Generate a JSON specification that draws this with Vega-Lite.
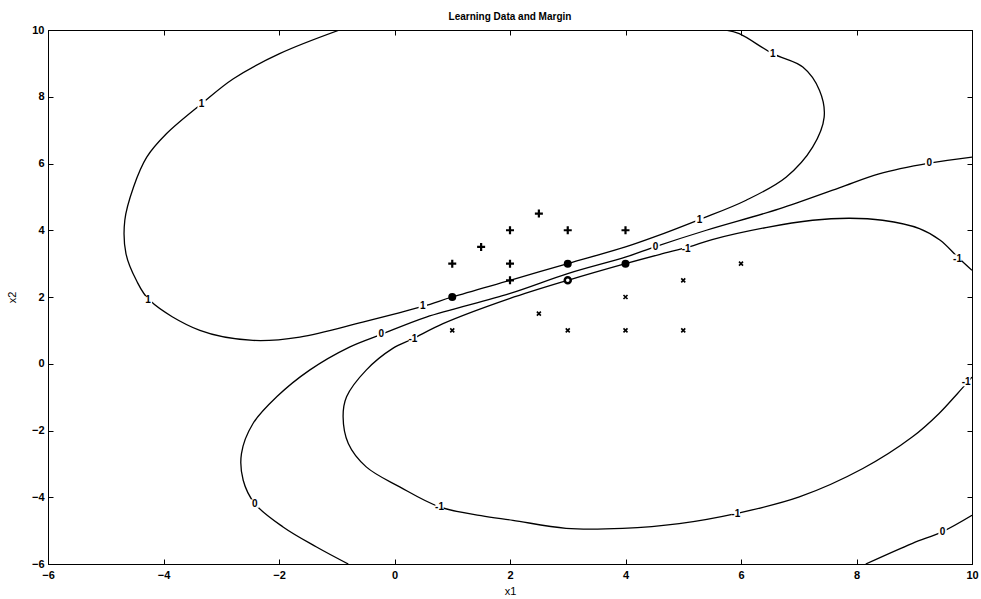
{
  "$schema": "https://vega.github.io/schema/vega-lite/v6.json",
  "autosize": "none",
  "width": 924,
  "height": 534,
  "padding": {"left": 48, "top": 30, "right": 9, "bottom": 35},
  "background": "white",
  "config": {
    "view": {"stroke": "black", "strokeWidth": 1},
    "axis": {"grid": false, "domainColor": "black", "tickColor": "black", "labelColor": "black", "titleColor": "black",
             "labelFont": "Liberation Sans", "labelFontWeight": "bold", "labelFontSize": 11,
             "titleFont": "Liberation Sans", "titleFontWeight": "normal", "titleFontSize": 11,
             "tickSize": -5, "tickWidth": 1, "minExtent": 0}
  },
  "title": {"text": "Learning Data and Margin", "font": "Liberation Sans", "fontSize": 10, "fontWeight": "bold", "color": "black", "anchor": "middle", "baseline": "bottom", "offset": 9, "dy": 17},
  "datasets": {
    "curves": [
      {"level": "1", "seg": "A", "ord": 1, "x1": -0.95, "x2": 10},
      {"level": "1", "seg": "A", "ord": 2, "x1": -1.99, "x2": 9.29},
      {"level": "1", "seg": "A", "ord": 3, "x1": -2.79, "x2": 8.54},
      {"level": "1", "seg": "A", "ord": 4, "x1": -3.34, "x2": 7.79},
      {"level": "1", "seg": "A", "ord": 5, "x1": -3.95, "x2": 6.89},
      {"level": "1", "seg": "A", "ord": 6, "x1": -4.29, "x2": 6.19},
      {"level": "1", "seg": "A", "ord": 7, "x1": -4.52, "x2": 5.29},
      {"level": "1", "seg": "A", "ord": 8, "x1": -4.67, "x2": 4.3},
      {"level": "1", "seg": "A", "ord": 9, "x1": -4.65, "x2": 3.3},
      {"level": "1", "seg": "A", "ord": 10, "x1": -4.47, "x2": 2.5},
      {"level": "1", "seg": "A", "ord": 11, "x1": -4.24, "x2": 1.9},
      {"level": "1", "seg": "A", "ord": 12, "x1": -3.37, "x2": 1.0},
      {"level": "1", "seg": "A", "ord": 13, "x1": -2.45, "x2": 0.7},
      {"level": "1", "seg": "A", "ord": 14, "x1": -1.64, "x2": 0.8},
      {"level": "1", "seg": "A", "ord": 15, "x1": -0.55, "x2": 1.25},
      {"level": "1", "seg": "A", "ord": 16, "x1": 0.49, "x2": 1.72},
      {"level": "1", "seg": "A", "ord": 17, "x1": 1, "x2": 2},
      {"level": "1", "seg": "A", "ord": 18, "x1": 2, "x2": 2.5},
      {"level": "1", "seg": "A", "ord": 19, "x1": 3, "x2": 3},
      {"level": "1", "seg": "A", "ord": 20, "x1": 4, "x2": 3.5},
      {"level": "1", "seg": "A", "ord": 21, "x1": 4.5, "x2": 3.8},
      {"level": "1", "seg": "A", "ord": 22, "x1": 5.28, "x2": 4.32},
      {"level": "1", "seg": "A", "ord": 23, "x1": 6.09, "x2": 4.9},
      {"level": "1", "seg": "A", "ord": 24, "x1": 6.78, "x2": 5.59},
      {"level": "1", "seg": "A", "ord": 25, "x1": 7.24, "x2": 6.49},
      {"level": "1", "seg": "A", "ord": 26, "x1": 7.44, "x2": 7.39},
      {"level": "1", "seg": "A", "ord": 27, "x1": 7.36, "x2": 8.19},
      {"level": "1", "seg": "A", "ord": 28, "x1": 7.07, "x2": 8.89},
      {"level": "1", "seg": "A", "ord": 29, "x1": 6.55, "x2": 9.29},
      {"level": "1", "seg": "A", "ord": 30, "x1": 5.97, "x2": 9.89},
      {"level": "1", "seg": "A", "ord": 31, "x1": 5.74, "x2": 10},

      {"level": "0", "seg": "B", "ord": 1, "x1": 10, "x2": 6.19},
      {"level": "0", "seg": "B", "ord": 2, "x1": 9.26, "x2": 6.01},
      {"level": "0", "seg": "B", "ord": 3, "x1": 8.39, "x2": 5.69},
      {"level": "0", "seg": "B", "ord": 4, "x1": 7.7, "x2": 5.27},
      {"level": "0", "seg": "B", "ord": 5, "x1": 6.66, "x2": 4.64},
      {"level": "0", "seg": "B", "ord": 6, "x1": 5.4, "x2": 4.0},
      {"level": "0", "seg": "B", "ord": 7, "x1": 4.52, "x2": 3.51},
      {"level": "0", "seg": "B", "ord": 8, "x1": 4.01, "x2": 3.2},
      {"level": "0", "seg": "B", "ord": 9, "x1": 3.0, "x2": 2.7},
      {"level": "0", "seg": "B", "ord": 10, "x1": 1.99, "x2": 2.1},
      {"level": "0", "seg": "B", "ord": 11, "x1": 0.55, "x2": 1.4},
      {"level": "0", "seg": "B", "ord": 12, "x1": -0.23, "x2": 0.88},
      {"level": "0", "seg": "B", "ord": 13, "x1": -0.78, "x2": 0.5},
      {"level": "0", "seg": "B", "ord": 14, "x1": -1.47, "x2": -0.19},
      {"level": "0", "seg": "B", "ord": 15, "x1": -2.04, "x2": -0.99},
      {"level": "0", "seg": "B", "ord": 16, "x1": -2.45, "x2": -1.79},
      {"level": "0", "seg": "B", "ord": 17, "x1": -2.65, "x2": -2.69},
      {"level": "0", "seg": "B", "ord": 18, "x1": -2.62, "x2": -3.49},
      {"level": "0", "seg": "B", "ord": 19, "x1": -2.42, "x2": -4.19},
      {"level": "0", "seg": "B", "ord": 20, "x1": -1.93, "x2": -4.89},
      {"level": "0", "seg": "B", "ord": 21, "x1": -1.35, "x2": -5.49},
      {"level": "0", "seg": "B", "ord": 22, "x1": -0.8, "x2": -6},

      {"level": "0", "seg": "C", "ord": 1, "x1": 8.16, "x2": -6},
      {"level": "0", "seg": "C", "ord": 2, "x1": 8.97, "x2": -5.38},
      {"level": "0", "seg": "C", "ord": 3, "x1": 9.49, "x2": -5.03},
      {"level": "0", "seg": "C", "ord": 4, "x1": 10, "x2": -4.54},

      {"level": "-1", "seg": "D", "ord": 1, "x1": 10, "x2": 2.8},
      {"level": "-1", "seg": "D", "ord": 2, "x1": 9.75, "x2": 3.2},
      {"level": "-1", "seg": "D", "ord": 3, "x1": 9.45, "x2": 3.7},
      {"level": "-1", "seg": "D", "ord": 4, "x1": 9.09, "x2": 4.05},
      {"level": "-1", "seg": "D", "ord": 5, "x1": 8.45, "x2": 4.3},
      {"level": "-1", "seg": "D", "ord": 6, "x1": 7.88, "x2": 4.36},
      {"level": "-1", "seg": "D", "ord": 7, "x1": 7.24, "x2": 4.3},
      {"level": "-1", "seg": "D", "ord": 8, "x1": 6.43, "x2": 4.08},
      {"level": "-1", "seg": "D", "ord": 9, "x1": 5.5, "x2": 3.72},
      {"level": "-1", "seg": "D", "ord": 10, "x1": 5.1, "x2": 3.5},
      {"level": "-1", "seg": "D", "ord": 11, "x1": 4.6, "x2": 3.28},
      {"level": "-1", "seg": "D", "ord": 12, "x1": 4, "x2": 3},
      {"level": "-1", "seg": "D", "ord": 13, "x1": 3, "x2": 2.5},
      {"level": "-1", "seg": "D", "ord": 14, "x1": 1.99, "x2": 1.95},
      {"level": "-1", "seg": "D", "ord": 15, "x1": 0.84, "x2": 1.2},
      {"level": "-1", "seg": "D", "ord": 16, "x1": 0.32, "x2": 0.75},
      {"level": "-1", "seg": "D", "ord": 17, "x1": -0.03, "x2": 0.46},
      {"level": "-1", "seg": "D", "ord": 18, "x1": -0.49, "x2": -0.19},
      {"level": "-1", "seg": "D", "ord": 19, "x1": -0.83, "x2": -0.99},
      {"level": "-1", "seg": "D", "ord": 20, "x1": -0.89, "x2": -1.59},
      {"level": "-1", "seg": "D", "ord": 21, "x1": -0.8, "x2": -2.39},
      {"level": "-1", "seg": "D", "ord": 22, "x1": -0.49, "x2": -3.09},
      {"level": "-1", "seg": "D", "ord": 23, "x1": 0.09, "x2": -3.69},
      {"level": "-1", "seg": "D", "ord": 24, "x1": 0.78, "x2": -4.29},
      {"level": "-1", "seg": "D", "ord": 25, "x1": 1.5, "x2": -4.55},
      {"level": "-1", "seg": "D", "ord": 26, "x1": 2.05, "x2": -4.69},
      {"level": "-1", "seg": "D", "ord": 27, "x1": 2.97, "x2": -4.93},
      {"level": "-1", "seg": "D", "ord": 28, "x1": 3.95, "x2": -4.93},
      {"level": "-1", "seg": "D", "ord": 29, "x1": 4.93, "x2": -4.79},
      {"level": "-1", "seg": "D", "ord": 30, "x1": 5.91, "x2": -4.49},
      {"level": "-1", "seg": "D", "ord": 31, "x1": 7.01, "x2": -3.99},
      {"level": "-1", "seg": "D", "ord": 32, "x1": 8.11, "x2": -3.14},
      {"level": "-1", "seg": "D", "ord": 33, "x1": 8.97, "x2": -2.19},
      {"level": "-1", "seg": "D", "ord": 34, "x1": 9.43, "x2": -1.49},
      {"level": "-1", "seg": "D", "ord": 35, "x1": 9.75, "x2": -0.89},
      {"level": "-1", "seg": "D", "ord": 36, "x1": 10, "x2": -0.4}
    ],
    "labels": [
      {"x1": -3.34, "x2": 7.79, "text": "1"},
      {"x1": -4.27, "x2": 1.9, "text": "1"},
      {"x1": 0.49, "x2": 1.74, "text": "1"},
      {"x1": 5.28, "x2": 4.32, "text": "1"},
      {"x1": 6.55, "x2": 9.29, "text": "1"},
      {"x1": -0.23, "x2": 0.88, "text": "0"},
      {"x1": 4.52, "x2": 3.51, "text": "0"},
      {"x1": 9.26, "x2": 6.01, "text": "0"},
      {"x1": -2.42, "x2": -4.19, "text": "0"},
      {"x1": 9.49, "x2": -5.03, "text": "0"},
      {"x1": 0.32, "x2": 0.75, "text": "-1"},
      {"x1": 5.05, "x2": 3.45, "text": "-1"},
      {"x1": 9.75, "x2": 3.15, "text": "-1"},
      {"x1": 0.78, "x2": -4.29, "text": "-1"},
      {"x1": 5.91, "x2": -4.49, "text": "-1"},
      {"x1": 9.9, "x2": -0.55, "text": "-1"}
    ],
    "points": [
      {"x1": 1, "x2": 3, "cls": "plus"},
      {"x1": 1.5, "x2": 3.5, "cls": "plus"},
      {"x1": 2, "x2": 4, "cls": "plus"},
      {"x1": 2.5, "x2": 4.5, "cls": "plus"},
      {"x1": 3, "x2": 4, "cls": "plus"},
      {"x1": 4, "x2": 4, "cls": "plus"},
      {"x1": 2, "x2": 3, "cls": "plus"},
      {"x1": 2, "x2": 2.5, "cls": "plus"},
      {"x1": 1, "x2": 1, "cls": "cross"},
      {"x1": 2.5, "x2": 1.5, "cls": "cross"},
      {"x1": 3, "x2": 1, "cls": "cross"},
      {"x1": 4, "x2": 1, "cls": "cross"},
      {"x1": 5, "x2": 1, "cls": "cross"},
      {"x1": 4, "x2": 2, "cls": "cross"},
      {"x1": 5, "x2": 2.5, "cls": "cross"},
      {"x1": 6, "x2": 3, "cls": "cross"},
      {"x1": 1, "x2": 2, "cls": "sv"},
      {"x1": 3, "x2": 3, "cls": "sv"},
      {"x1": 4, "x2": 3, "cls": "sv"},
      {"x1": 3, "x2": 2.5, "cls": "svring"}
    ]
  },
  "layer": [
    {
      "data": {"name": "curves"},
      "mark": {"type": "line", "color": "black", "strokeWidth": 1.3, "interpolate": "catmull-rom", "clip": true},
      "encoding": {
        "x": {"field": "x1", "type": "quantitative", "scale": {"domain": [-6, 10], "nice": false, "zero": false},
              "axis": {"orient": "bottom", "values": [-6, -4, -2, 0, 2, 4, 6, 8, 10], "title": "x1", "labelPadding": 10, "titleY": 27, "titleBaseline": "middle", "labelFlush": false}},
        "y": {"field": "x2", "type": "quantitative", "scale": {"domain": [-6, 10], "nice": false, "zero": false},
              "axis": {"orient": "left", "values": [-6, -4, -2, 0, 2, 4, 6, 8, 10], "title": "x2", "labelPadding": 9, "titleX": -36, "titleY": 267, "titleAngle": -90, "titleBaseline": "middle", "labelFlush": false}},
        "detail": {"field": "seg"},
        "order": {"field": "ord"}
      }
    },
    {
      "data": {"name": "labels"},
      "mark": {"type": "square", "color": "white", "opacity": 1, "filled": true, "size": 70},
      "encoding": {
        "x": {"field": "x1", "type": "quantitative", "axis": {"orient": "top", "values": [-6, -4, -2, 0, 2, 4, 6, 8, 10], "labels": false, "title": null, "minExtent": 0, "maxExtent": 0}},
        "y": {"field": "x2", "type": "quantitative", "axis": {"orient": "right", "values": [-6, -4, -2, 0, 2, 4, 6, 8, 10], "labels": false, "title": null, "minExtent": 0, "maxExtent": 0}}
      }
    },
    {
      "data": {"name": "labels"},
      "mark": {"type": "text", "font": "Liberation Sans", "fontSize": 10, "fontWeight": "bold", "color": "black", "align": "center", "baseline": "middle"},
      "encoding": {
        "x": {"field": "x1", "type": "quantitative", "axis": null},
        "y": {"field": "x2", "type": "quantitative", "axis": null},
        "text": {"field": "text"}
      }
    },
    {
      "data": {"name": "points"},
      "transform": [{"filter": "datum.cls === 'plus'"}],
      "mark": {"type": "point", "shape": "M-1,0H1M0,-1V1", "size": 64, "filled": false, "color": "black", "strokeWidth": 2.2, "opacity": 1},
      "encoding": {
        "x": {"field": "x1", "type": "quantitative", "axis": null},
        "y": {"field": "x2", "type": "quantitative", "axis": null}
      }
    },
    {
      "data": {"name": "points"},
      "transform": [{"filter": "datum.cls === 'cross'"}],
      "mark": {"type": "point", "shape": "M-1,-1L1,1M-1,1L1,-1", "size": 16, "filled": false, "color": "black", "strokeWidth": 1.6, "opacity": 1},
      "encoding": {
        "x": {"field": "x1", "type": "quantitative", "axis": null},
        "y": {"field": "x2", "type": "quantitative", "axis": null}
      }
    },
    {
      "data": {"name": "points"},
      "transform": [{"filter": "datum.cls === 'sv'"}],
      "mark": {"type": "circle", "size": 64, "color": "black", "opacity": 1},
      "encoding": {
        "x": {"field": "x1", "type": "quantitative", "axis": null},
        "y": {"field": "x2", "type": "quantitative", "axis": null}
      }
    },
    {
      "data": {"name": "points"},
      "transform": [{"filter": "datum.cls === 'svring'"}],
      "mark": {"type": "point", "shape": "circle", "size": 36, "filled": false, "fill": "white", "fillOpacity": 1, "stroke": "black", "strokeWidth": 2.5, "opacity": 1},
      "encoding": {
        "x": {"field": "x1", "type": "quantitative", "axis": null},
        "y": {"field": "x2", "type": "quantitative", "axis": null}
      }
    }
  ],
  "resolve": {"axis": {"x": "independent", "y": "independent"}}
}
